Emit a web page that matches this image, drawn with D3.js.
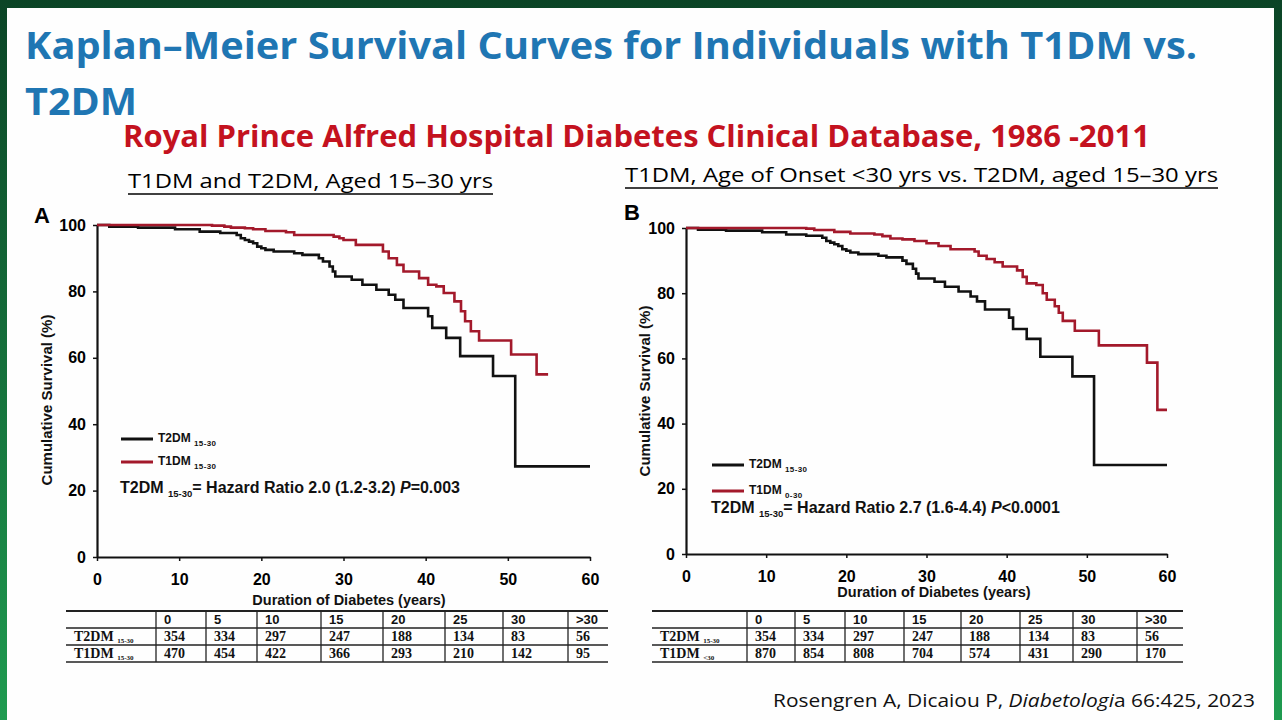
<!DOCTYPE html>
<html>
<head>
<meta charset="utf-8">
<script src="https://cdn.jsdelivr.net/npm/d3@7"></script>
<style>
  body { margin: 0; background: #fff; }
  svg { display: block; }
</style>
</head>
<body>
<script>
// Kaplan-Meier steps: time (years) / cumulative survival (%)
const t2dmTimes = [0, 1.5, 5, 9.5, 12.5, 15, 17, 17.5, 18, 18.5, 19, 19.5, 20, 20.5, 21.5, 24, 25, 27, 27.5, 28.3, 28.7, 29, 31, 32.3, 34, 35.5, 36.3, 37.3, 40.3, 40.8, 42.5, 44.2, 48.2, 50.9, 60];
const t2dmSurv  = [100, 99.5, 99.2, 98.7, 98, 97.6, 97, 96, 95.5, 95, 94.5, 93.5, 93, 92.5, 92, 91.5, 91, 90, 89, 87.5, 86, 84.5, 83.5, 82, 80.5, 79, 77.5, 75, 72.5, 69, 66, 60.5, 54.5, 27.3, 27.3];

const t1dmATimes = [0, 14, 15.5, 16.3, 18, 19, 20.5, 23, 24, 28.8, 29.5, 30, 31.5, 34.8, 35.5, 36.5, 37.3, 39.2, 40.3, 41.3, 42.2, 43.5, 44.3, 44.8, 45.5, 46.5, 50.4, 53.5, 54.9];
const t1dmASurv  = [100, 99.8, 99.5, 99.2, 99, 98.7, 98.2, 97.8, 97, 96.5, 96, 95.5, 94, 92, 90, 88, 86, 84, 82, 81.5, 79.5, 77, 74, 71, 68, 65.2, 61, 55, 55];

const t1dmBTimes = [0, 15, 16, 18.5, 20.5, 23.5, 24.5, 25.5, 27, 28.5, 30, 31.5, 33, 36, 36.5, 37.5, 38.5, 39.5, 41.3, 42, 42.5, 43.7, 44.5, 45, 46, 46.5, 47, 48.5, 51.5, 57.5, 58.8, 60];
const t1dmBSurv  = [100, 99.8, 99.4, 98.8, 98.3, 98, 97.5, 96.8, 96.5, 96, 95.3, 94.5, 93.5, 92.8, 91.5, 90.5, 89.5, 88.2, 87, 85, 83, 82.5, 80, 78, 76, 74, 71.5, 68.5, 64, 58.7, 44.2, 44.2];

const xTicks = [0, 10, 20, 30, 40, 50, 60];
const yTicks = [0, 20, 40, 60, 80, 100];

// numbers at risk
const riskCols = ["0", "5", "10", "15", "20", "25", "30", ">30"];
const t2dmAtRisk  = [354, 334, 297, 247, 188, 134, 83, 56];
const t1dmAtRiskA = [470, 454, 422, 366, 293, 210, 142, 95];
const t1dmAtRiskB = [870, 854, 808, 704, 574, 431, 290, 170];

const BLACK = "#111", RED = "#a3192b";
const SANS = "'Liberation Sans', Arial, sans-serif";
const SERIF = "'Liberation Serif', 'Times New Roman', serif";
const SLIDE = "'Open Sans', 'Noto Sans', sans-serif";

const svg = d3.select("body").append("svg")
  .attr("width", 1282)
  .attr("height", 720);

// green frame of the slide
const grad = svg.append("defs").append("linearGradient")
  .attr("id", "frame").attr("x1", 0).attr("y1", 0).attr("x2", 0).attr("y2", 1);
grad.append("stop").attr("offset", "0%").attr("stop-color", "#0b4426");
grad.append("stop").attr("offset", "100%").attr("stop-color", "#1f9b50");
svg.append("rect").attr("width", 1282).attr("height", 720).attr("fill", "url(#frame)");
svg.append("rect").attr("x", 7).attr("y", 8).attr("width", 1267).attr("height", 712).attr("fill", "#fefefe");

// slide titles
function slideText(x, y, size, width, color, weight, str) {
  return svg.append("text")
    .attr("x", x).attr("y", y)
    .attr("font-family", SLIDE)
    .attr("font-size", size)
    .attr("font-weight", weight)
    .attr("fill", color)
    .attr("textLength", width)
    .attr("lengthAdjust", "spacingAndGlyphs")
    .text(str);
}
slideText(25, 59, 38, 1172, "#1f76b3", "bold", "Kaplan–Meier Survival Curves for Individuals with T1DM vs.");
slideText(25, 115, 38, 112, "#1f76b3", "bold", "T2DM");
slideText(123, 147, 30, 1027, "#c4121f", "bold", "Royal Prince Alfred Hospital Diabetes Clinical Database, 1986 -2011");

slideText(128, 188, 19.5, 365, "#000", 500, "T1DM and T2DM, Aged 15–30 yrs");
slideText(625, 182, 19.5, 593, "#000", 500, "T1DM, Age of Onset <30 yrs vs. T2DM,  aged 15–30 yrs");
[[128, 365, 194], [625, 593, 188]].forEach(([x, w, y]) => {
  svg.append("line").attr("x1", x).attr("x2", x + w).attr("y1", y).attr("y2", y)
    .attr("stroke", "#000").attr("stroke-width", 1.5);
});

// citation
const cite = svg.append("text")
  .attr("x", 773).attr("y", 707)
  .attr("font-family", SLIDE).attr("font-size", 19).attr("fill", "#111")
  .attr("textLength", 482).attr("lengthAdjust", "spacingAndGlyphs");
cite.append("tspan").text("Rosengren A, Dicaiou P, ");
cite.append("tspan").attr("font-style", "italic").text("Diabetologi");
cite.append("tspan").text("a 66:425, 2023");

const panels = [
  {
    letter: "A", letterX: 34, letterY: 223,
    left: 97, right: 590, top: 225, bottom: 557,
    red: [t1dmATimes, t1dmASurv], redSub: "15-30",
    legX: 121, legY: 439, legGap: 23, hrY: 493,
    hr: "2.0 (1.2-3.2) ", p: "=0.003",
    xTitle: [349, 605], yTitle: [47, 400],
    table: { edges: [66, 156, 206, 257, 321, 383, 445, 503, 568, 608], top: 611, redRows: t1dmAtRiskA, redSub: "15-30" }
  },
  {
    letter: "B", letterX: 624, letterY: 220,
    left: 686, right: 1167, top: 228, bottom: 554,
    red: [t1dmBTimes, t1dmBSurv], redSub: "0-30",
    legX: 712, legY: 465, legGap: 26, hrY: 513,
    hr: "2.7 (1.6-4.4) ", p: "<0.0001",
    xTitle: [934, 597], yTitle: [645, 391],
    table: { edges: [652, 747, 795, 845, 904, 961, 1020, 1073, 1137, 1183], top: 611, redRows: t1dmAtRiskB, redSub: "<30" }
  }
];

panels.forEach(p => {
  const g = svg.append("g").attr("font-family", SANS).attr("font-weight", "bold");
  const x = d3.scaleLinear().domain([0, 60]).range([p.left, p.right]);
  const y = d3.scaleLinear().domain([0, 100]).range([p.bottom, p.top]);

  g.append("text").attr("x", p.letterX).attr("y", p.letterY)
    .attr("font-size", 22).attr("fill", "#000").text(p.letter);

  // axes
  const xAxis = g.append("g").attr("transform", `translate(0,${p.bottom})`)
    .call(d3.axisBottom(x).tickValues(xTicks).tickSize(4).tickSizeOuter(0).tickPadding(13));
  const yAxis = g.append("g").attr("transform", `translate(${p.left},0)`)
    .call(d3.axisLeft(y).tickValues(yTicks).tickSize(4).tickSizeOuter(0).tickPadding(7));
  [xAxis, yAxis].forEach(a => {
    a.attr("font-family", SANS).attr("font-size", 16).attr("font-weight", "bold");
    a.select(".domain").attr("stroke", BLACK).attr("stroke-width", 2.2);
    a.selectAll(".tick line").attr("stroke", BLACK).attr("stroke-width", 1.5);
    a.selectAll(".tick text").attr("fill", "#000");
  });

  g.append("text").attr("x", p.xTitle[0]).attr("y", p.xTitle[1])
    .attr("text-anchor", "middle").attr("font-size", 14.5).attr("fill", "#111")
    .text("Duration of Diabetes (years)");
  g.append("text")
    .attr("transform", `translate(${p.yTitle[0]},${p.yTitle[1]}) rotate(-90)`)
    .attr("text-anchor", "middle").attr("dy", "0.35em").attr("font-size", 15).attr("fill", "#111")
    .text("Cumulative Survival (%)");

  // step curves
  const line = d3.line().x(d => x(d[0])).y(d => y(d[1])).curve(d3.curveStepAfter);
  g.append("path").datum(d3.zip(t2dmTimes, t2dmSurv)).attr("d", line)
    .attr("fill", "none").attr("stroke", BLACK).attr("stroke-width", 2.6);
  g.append("path").datum(d3.zip(p.red[0], p.red[1])).attr("d", line)
    .attr("fill", "none").attr("stroke", RED).attr("stroke-width", 2.6);

  // legend
  [[BLACK, "T2DM", "15-30"], [RED, "T1DM", p.redSub]].forEach(([c, name, sub], i) => {
    const ly = p.legY + i * p.legGap;
    g.append("line").attr("x1", p.legX).attr("x2", p.legX + 32).attr("y1", ly).attr("y2", ly)
      .attr("stroke", c).attr("stroke-width", 3);
    const t = g.append("text").attr("x", p.legX + 37).attr("y", ly + 3)
      .attr("font-size", 12).attr("fill", "#111");
    t.append("tspan").text(name + " ");
    t.append("tspan").attr("font-size", 8).attr("dy", 4).attr("letter-spacing", 0.4).text(sub);
  });

  const hr = g.append("text").attr("x", p.legX - 1).attr("y", p.hrY)
    .attr("font-size", 16).attr("fill", "#111");
  hr.append("tspan").text("T2DM ");
  hr.append("tspan").attr("font-size", 9.5).attr("dy", 4).text("15-30");
  hr.append("tspan").attr("dy", -4).text("= Hazard Ratio " + p.hr);
  hr.append("tspan").attr("font-style", "italic").text("P");
  hr.append("tspan").text(p.p);

  // numbers-at-risk table
  const tb = p.table, e = tb.edges, rowH = 17;
  const tg = svg.append("g");
  [0, 1, 2, 3].forEach(r => {
    tg.append("line").attr("x1", e[0]).attr("x2", e[e.length - 1])
      .attr("y1", tb.top + r * rowH).attr("y2", tb.top + r * rowH)
      .attr("stroke", "#222").attr("stroke-width", r === 0 ? 2 : 1.5);
  });
  e.slice(1, -1).forEach(ex => {
    tg.append("line").attr("x1", ex).attr("x2", ex)
      .attr("y1", tb.top).attr("y2", tb.top + 3 * rowH)
      .attr("stroke", "#222").attr("stroke-width", 1.3);
  });
  tg.selectAll(".hd").data(riskCols).join("text")
    .attr("x", (d, i) => e[i + 1] + 8).attr("y", tb.top + 13)
    .attr("font-family", SANS).attr("font-weight", "bold").attr("font-size", 13).attr("fill", "#111")
    .text(d => d);
  [[t2dmAtRisk, "T2DM", "15-30"], [tb.redRows, "T1DM", tb.redSub]].forEach(([vals, name, sub], r) => {
    const by = tb.top + (r + 1) * rowH + 13;
    const lab = tg.append("text").attr("x", e[0] + 8).attr("y", by)
      .attr("font-family", SERIF).attr("font-weight", "bold").attr("font-size", 14).attr("fill", "#111");
    lab.append("tspan").text(name + " ");
    lab.append("tspan").attr("font-size", 7).attr("dy", 2).text(sub);
    tg.selectAll(".v" + r).data(vals).join("text")
      .attr("x", (d, i) => e[i + 1] + 8).attr("y", by)
      .attr("font-family", SERIF).attr("font-weight", "bold").attr("font-size", 14).attr("fill", "#111")
      .text(d => d);
  });
});
</script>
</body>
</html>
